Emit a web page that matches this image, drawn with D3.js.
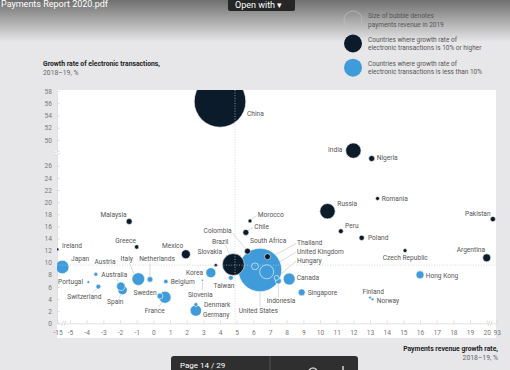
<!DOCTYPE html>
<html>
<head>
<meta charset="utf-8">
<script src="https://cdn.jsdelivr.net/npm/d3@7"></script>
<style>
  body { margin: 0; background: #e7e7e9; }
  svg { display: block; font-family: Roboto, "Liberation Sans", sans-serif; }
</style>
</head>
<body>
<svg id="chart" width="510" height="370"></svg>
<script>
// data
var countries = ["China","India","Nigeria","Romania","Russia","Pakistan","Morocco","Chile","Colombia","South Africa",
  "Brazil","Slovakia","Mexico","Greece","Malaysia","Ireland","Czech Republic","Argentina","Peru","Poland",
  "United States","United Kingdom","Thailand","Hungary","Indonesia","Canada","Singapore","Hong Kong","Finland","Norway",
  "Taiwan","Korea","Slovenia","Denmark","Germany","France","Sweden","Belgium","Netherlands","Italy",
  "Australia","Spain","Austria","Switzerland","Portugal","Japan"];
// payments revenue growth, 2018-19, %
var revenueGrowth = [4.0,12.0,13.1,13.45,10.45,65,5.8,5.55,5.65,6.85,
  4.8,3.75,1.95,-1.0,-1.45,-15,15.1,20.0,11.25,12.5,
  6.4,6.8,6.1,7.4,7.5,8.15,8.9,16.0,13.0,13.15,
  4.65,3.45,2.95,2.55,2.55,0.7,0.4,0.75,-0.2,-0.9,
  -1.95,-1.85,-3.45,-3.3,-3.9,-11.2];
// growth of electronic transactions, 2018-19, %
var txnGrowth = [56.3,28.5,27.2,20.6,18.5,17.2,16.9,15.0,11.9,11.0,
  9.7,9.6,11.4,12.6,16.8,12.2,12.0,10.8,15.2,14.1,
  8.8,8.5,9.4,7.5,7.0,7.3,5.1,8.0,4.25,3.95,
  7.5,8.35,7.1,3.1,2.1,4.3,4.5,6.9,7.25,7.3,
  6.1,5.5,8.1,6.05,6.8,9.3];
// payments revenue 2019 (relative, bubble area)
var revenue = [666,59,9,4,59,7,4,9,9,9,
  121,3,20,5,9,2,4,16,6,7,
  471,49,12,6,9,36,12,16,2,2,
  6,25,1,4,32,36,9,5,8,40,
  18,22,4,6,2,45];
// 1 = growth of electronic transactions 10% or higher
var group = [1,1,1,1,1,1,1,1,1,1,
  1,1,1,1,1,1,1,1,1,1,
  0,0,0,0,0,0,0,0,0,0,
  0,0,0,0,0,0,0,0,0,0,
  0,0,0,0,0,0];

var xTicks = [-15,-5,-4,-3,-2,-1,0,1,2,3,4,5,6,7,8,9,10,11,12,13,14,15,16,17,18,19,20,93];
var yTicks = [0,2,4,6,8,10,12,14,16,18,20,22,24,26,50,52,54,56,58];

// label placement: dx, dy, anchor, optional leader [x1,y1,x2,y2] (all relative to the point)
var labelPos = {
  "China": [27,14.9,"start"], "India": [-11,1,"end"], "Nigeria": [5,1.5,"start"], "Romania": [4.2,2.8,"start"],
  "Russia": [9.8,-5.6,"start"], "Pakistan": [-2.3,-3.5,"end"],
  "Morocco": [7.7,-4.3,"start",[1.5,-1.4,6.5,-5.4]], "Chile": [8.5,-3.4,"start",[1.7,-1.4,7.2,-4.9]],
  "Colombia": [-15.8,-18.2,"end",[-15,-18.2,-2,-2.7]], "South Africa": [-17.5,-13.6,"start"],
  "Brazil": [-5,-20.9,"end",[-8.3,-20,-3.8,-10.5]], "Slovakia": [6.2,-10.8,"end"],
  "Mexico": [-2.5,-6.2,"end"], "Greece": [-0.7,-4.4,"end"], "Malaysia": [-2.5,-4.9,"end"], "Ireland": [4.5,-1.1,"start"],
  "Czech Republic": [0.3,9.7,"middle"], "Argentina": [-1.7,-5.6,"end"], "Peru": [4.2,-3.6,"start"], "Poland": [6.3,2.1,"start"],
  "United States": [-1.7,43.3,"middle",[0,21.7,0,36.5]], "United Kingdom": [30.3,-17.8,"start",[5,-4.5,29.3,-20]],
  "Thailand": [42,-21.7,"start",[3,-2,41,-22.8]], "Hungary": [20.3,-14.9,"start",[2,-2,19.3,-16.7]],
  "Indonesia": [2.7,22.4,"middle",[0,3,0,16]], "Canada": [7.5,1.2,"start"], "Singapore": [6,2.2,"start"],
  "Hong Kong": [5.7,3.5,"start"], "Finland": [3.2,-3.2,"middle"], "Norway": [4.2,3.6,"start"],
  "Taiwan": [-6.8,10.4,"middle"], "Korea": [-7.8,2.6,"end"], "Slovenia": [-2.2,16.3,"middle",[0,2,0,9]],
  "Denmark": [8.2,2.8,"start"], "Germany": [7.2,6,"start"], "France": [-10.3,15.4,"middle",[-3,5,-6,9]],
  "Sweden": [-3.3,-1.4,"end"], "Belgium": [4.9,2.5,"start"], "Netherlands": [7,-18.1,"middle",[0,-3,0,-16]],
  "Italy": [-11.6,-17.8,"middle",[-4,-5,-9,-16]], "Australia": [-6.5,-9,"middle",[-2,-4,-4,-7]],
  "Spain": [-7.2,14,"middle",[-1,4.5,-4,8]], "Austria": [9.2,-9.9,"middle"],
  "Switzerland": [-14,12.4,"middle",[-1.5,2,-5,5.5]], "Portugal": [-5.3,2.2,"end"], "Japan": [8.75,-5.6,"start"]
};

var dark = "#0c1b2a", blue = "#3f9bd9";
var plot = {left: 57, right: 496, top: 90, bottom: 338};

var svg = d3.select("#chart");

var x = d3.scaleLinear().domain([-15, -5, 20, 93]).range([57.5, 70, 486.7, 496.7]);
var y = d3.scaleLinear().domain([0, 29, 49.5, 58]).range([323.3, 147.6, 143, 91]);
var r = d3.scaleSqrt().domain([0, 666]).range([0, 25.8]);

// top viewer bar
var grad = svg.append("defs").append("linearGradient").attr("id", "topfade")
  .attr("x1", 0).attr("y1", 0).attr("x2", 0).attr("y2", 1);
grad.append("stop").attr("offset", 0).attr("stop-color", "#6f6f6f");
grad.append("stop").attr("offset", 1).attr("stop-color", "#e7e7e9");
svg.append("rect").attr("x", 0).attr("y", 0).attr("width", 510).attr("height", 42).attr("fill", "url(#topfade)");
svg.append("text").attr("x", 1).attr("y", 7).attr("fill", "#fff").attr("font-size", 9).text("Payments Report 2020.pdf");
svg.append("rect").attr("x", 228).attr("y", -4).attr("width", 67).attr("height", 15).attr("rx", 2).attr("fill", "#262626");
svg.append("text").attr("x", 235).attr("y", 7.5).attr("fill", "#fff").attr("font-size", 9).text("Open with  \u25BE");

svg.append("clipPath").attr("id", "clip").append("rect")
  .attr("x", plot.left).attr("y", plot.top).attr("width", plot.right - plot.left).attr("height", plot.bottom - plot.top);

svg.append("rect").attr("x", plot.left).attr("y", plot.top)
  .attr("width", plot.right - plot.left).attr("height", plot.bottom - plot.top).attr("fill", "#fff");

// axes
var xAxis = svg.append("g").attr("transform", "translate(0," + y(0) + ")")
  .call(d3.axisBottom(x).tickValues(xTicks).tickSize(-3).tickSizeOuter(0).tickPadding(7.5).tickFormat(function (d) { return String(d); }));
var yAxis = svg.append("g").attr("transform", "translate(" + plot.left + ",0)")
  .call(d3.axisLeft(y).tickValues(yTicks).tickSize(-3).tickSizeOuter(0).tickPadding(5));
[xAxis, yAxis].forEach(function (a) {
  a.select(".domain").attr("stroke", "#d4d4d4").attr("stroke-width", 0.7);
  a.selectAll(".tick line").attr("stroke", "#cfcfcf").attr("stroke-width", 0.6);
  a.selectAll(".tick text").attr("fill", "#777").attr("font-size", 6.6).attr("font-family", "Roboto, sans-serif");
});

// axis breaks
function breakMark(cx, cy, vertical) {
  var g = svg.append("g");
  if (vertical) {
    g.append("rect").attr("x", cx - 2).attr("y", cy - 2).attr("width", 4).attr("height", 4).attr("fill", "#fff");
    [-1.2, 1.2].forEach(function (o) {
      g.append("line").attr("x1", cx - 2.5).attr("x2", cx + 2.5).attr("y1", cy + o + 1).attr("y2", cy + o - 1)
        .attr("stroke", "#bbb").attr("stroke-width", 0.6);
    });
  } else {
    g.append("rect").attr("x", cx - 1.5).attr("y", cy - 2).attr("width", 3).attr("height", 4).attr("fill", "#fff");
    [-1.2, 1.2].forEach(function (o) {
      g.append("line").attr("x1", cx + o - 1).attr("x2", cx + o + 1).attr("y1", cy + 2.5).attr("y2", cy - 2.5)
        .attr("stroke", "#bbb").attr("stroke-width", 0.6);
    });
  }
}
breakMark(plot.left, (y(29) + y(49.5)) / 2 + 8, true);
breakMark(x(-10), y(0), false);
breakMark(x(45), y(0), false);

var pts = countries.map(function (c, i) {
  return {name: c, x: revenueGrowth[i], y: txnGrowth[i], rev: revenue[i], high: group[i] === 1};
});

// leader lines
var lab = svg.append("g");
pts.forEach(function (d) {
  var p = labelPos[d.name];
  if (p && p[3]) {
    lab.append("line")
      .attr("x1", x(d.x) + p[3][0]).attr("y1", y(d.y) + p[3][1])
      .attr("x2", x(d.x) + p[3][2]).attr("y2", y(d.y) + p[3][3])
      .attr("stroke", "#b5b5b5").attr("stroke-width", 0.5);
  }
});

// bubbles, biggest first
svg.append("g").attr("clip-path", "url(#clip)")
  .selectAll("circle")
  .data(pts.slice().sort(function (a, b) { return b.rev - a.rev; }))
  .enter()
  .append("circle")
  .attr("cx", function (d) { return x(d.x); })
  .attr("cy", function (d) { return y(d.y); })
  .attr("r", function (d) { return r(d.rev); })
  .attr("fill", function (d) { return d.high ? dark : blue; })
  .attr("stroke", "#fff")
  .attr("stroke-width", 0.6);

// dotted reference lines
svg.append("line").attr("x1", x(4.9)).attr("x2", x(4.9)).attr("y1", plot.top).attr("y2", y(0))
  .attr("stroke", "#c9c9c9").attr("stroke-width", 0.7).attr("stroke-dasharray", "1,1.6");
svg.append("line").attr("x1", plot.left).attr("x2", plot.right).attr("y1", y(9.6)).attr("y2", y(9.6))
  .attr("stroke", "#c9c9c9").attr("stroke-width", 0.7).attr("stroke-dasharray", "1,1.6");

// country labels
svg.append("g").selectAll("text")
  .data(pts)
  .enter()
  .append("text")
  .attr("x", function (d) { return x(d.x) + labelPos[d.name][0]; })
  .attr("y", function (d) { return y(d.y) + labelPos[d.name][1]; })
  .attr("text-anchor", function (d) { return labelPos[d.name][2]; })
  .attr("font-size", 6.6)
  .attr("fill", "#555")
  .text(function (d) { return d.name; });

// axis titles
var yt = svg.append("text").attr("x", 43).attr("y", 66).attr("font-size", 6.8);
yt.append("tspan").attr("font-weight", "bold").attr("fill", "#222").text("Growth rate of electronic transactions,");
yt.append("tspan").attr("x", 43).attr("dy", 9).attr("fill", "#666").text("2018\u201319, %");
var xt = svg.append("text").attr("x", 498).attr("y", 351).attr("font-size", 6.8).attr("text-anchor", "end");
xt.append("tspan").attr("font-weight", "bold").attr("fill", "#222").text("Payments revenue growth rate,");
xt.append("tspan").attr("x", 498).attr("dy", 8.5).attr("fill", "#666").text("2018\u201319, %");

// legend
var legend = [
  {fill: "none", stroke: "#bdbdbd", cy: 20, lines: ["Size of bubble denotes", "payments revenue in 2019"]},
  {fill: dark, stroke: "none", cy: 43.5, lines: ["Countries where growth rate of", "electronic transactions is 10% or higher"]},
  {fill: blue, stroke: "none", cy: 67.7, lines: ["Countries where growth rate of", "electronic transactions is less than 10%"]}
];
var lg = svg.append("g").selectAll("g").data(legend).enter().append("g");
lg.append("circle").attr("cx", 353).attr("cy", function (d) { return d.cy; }).attr("r", 9)
  .attr("fill", function (d) { return d.fill; }).attr("stroke", function (d) { return d.stroke; }).attr("stroke-width", 0.8);
lg.append("text").attr("x", 368).attr("y", function (d) { return d.cy - 1.6; }).attr("font-size", 6.5).attr("fill", "#555")
  .selectAll("tspan").data(function (d) { return d.lines; }).enter().append("tspan")
  .attr("x", 368).attr("dy", function (d, i) { return i ? 8.2 : 0; }).text(function (d) { return d; });

// bottom viewer toolbar
svg.append("rect").attr("x", 171).attr("y", 356).attr("width", 187).attr("height", 20).attr("rx", 3).attr("fill", "#2f2f2f");
svg.append("line").attr("x1", 270).attr("x2", 270).attr("y1", 356).attr("y2", 370).attr("stroke", "#555").attr("stroke-width", 1);
svg.append("text").attr("x", 180).attr("y", 368).attr("fill", "#fff").attr("font-size", 8).text("Page   14   /   29");
svg.append("circle").attr("cx", 313).attr("cy", 372).attr("r", 4).attr("fill", "none").attr("stroke", "#fff").attr("stroke-width", 1.2);
svg.append("line").attr("x1", 343).attr("x2", 343).attr("y1", 366).attr("y2", 372).attr("stroke", "#fff").attr("stroke-width", 1.2);
</script>
</body>
</html>
